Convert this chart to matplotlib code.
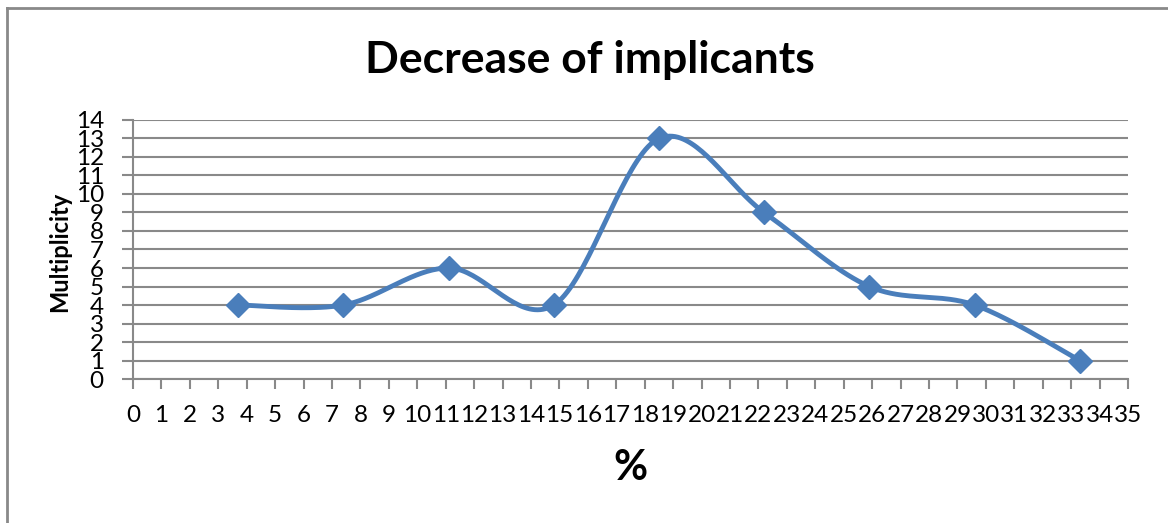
import matplotlib.pyplot as plt
import numpy as np
from matplotlib.lines import Line2D

percent = [3.7, 7.4, 11.1, 14.8, 18.5, 22.2, 25.9, 29.6, 33.3]
multiplicity = [4, 4, 6, 4, 13, 9, 5, 4, 1]
x_ticks = list(range(0, 36))
y_ticks = list(range(0, 15))

BLUE = '#4A7EBB'
GRAY = '#898989'


def smooth_curve(xs, ys, steps=40):
    # cubic bezier through the points, tangents from the neighbours
    p = np.column_stack([xs, ys]).astype(float)
    p = np.vstack([p[0], p, p[-1]])
    out = []
    t = np.linspace(0, 1, steps)[:, None]
    for i in range(1, len(p) - 2):
        p0, p3 = p[i], p[i + 1]
        c1 = p0 + (p[i + 1] - p[i - 1]) / 6
        c2 = p3 - (p[i + 2] - p[i]) / 6
        seg = ((1 - t) ** 3) * p0 + 3 * ((1 - t) ** 2) * t * c1 \
            + 3 * (1 - t) * t ** 2 * c2 + t ** 3 * p3
        out.append(seg if i == 1 else seg[1:])
    out = np.vstack(out)
    return out[:, 0], out[:, 1]


plt.rcParams['font.family'] = ['Lato', 'DejaVu Sans']

fig = plt.figure(figsize=(11.68, 5.23), dpi=100)
ax = fig.add_axes([0.1139, 0.2753, 0.8519, 0.4953])

sx, sy = smooth_curve(percent, multiplicity)
ax.plot(sx, sy, color=BLUE, linewidth=3.5, solid_capstyle='round', zorder=3)
ax.plot(percent, multiplicity, linestyle='none', marker='D', markersize=12,
        color=BLUE, zorder=4)

ax.set_xlim(0, 35)
ax.set_ylim(0, 14)
ax.set_xticks(x_ticks)
ax.set_yticks(y_ticks)
ax.tick_params(axis='x', direction='out', color=GRAY, width=1.5,
               length=7, labelsize=17.5, pad=12)
ax.tick_params(axis='y', direction='out', color=GRAY, width=1.5,
               length=8, labelsize=17.5, pad=13)

ax.grid(axis='y', color=GRAY, linewidth=1.5)
ax.set_axisbelow(True)
for side in ['top', 'right']:
    ax.spines[side].set_visible(False)
for side in ['left', 'bottom']:
    ax.spines[side].set_color(GRAY)
    ax.spines[side].set_linewidth(1.5)

ax.set_xlabel('%', fontsize=30, fontweight='bold', va='center')
ax.xaxis.set_label_coords(0.4995, -0.344)
ax.set_ylabel('Multiplicity', fontsize=17, fontweight='bold', va='center')
ax.yaxis.set_label_coords(-0.0734, 0.49)

fig.text(0.505, 0.885, 'Decrease of implicants', ha='center', va='center',
         fontsize=32, fontweight='bold')

# chart area frame
fig.add_artist(Line2D([0.0062, 0.0062], [0, 0.984], color=GRAY, linewidth=2))
fig.add_artist(Line2D([0.0062, 1.0], [0.984, 0.984], color=GRAY, linewidth=2))

fig.savefig('out.png', dpi=100)
